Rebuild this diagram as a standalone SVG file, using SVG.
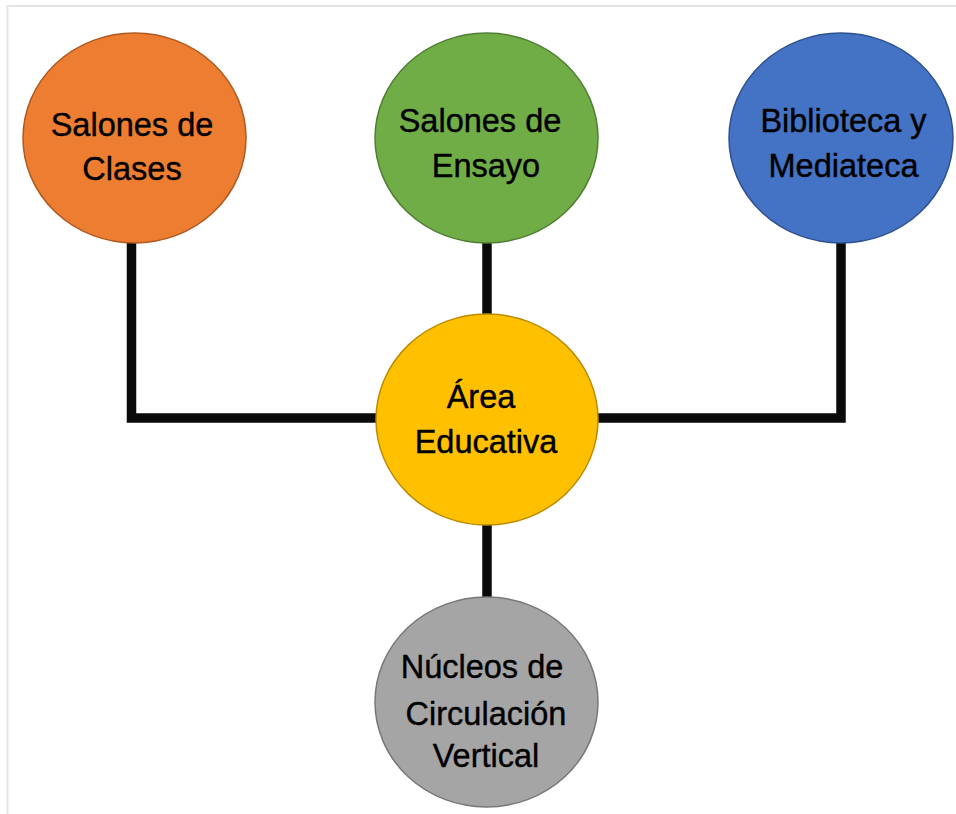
<svg xmlns="http://www.w3.org/2000/svg" width="956" height="814" viewBox="0 0 956 814">
<style>
.lbl{font-family:"Liberation Sans",Arial,sans-serif;font-size:32.5px;fill:#000;stroke:#000;stroke-width:0.4;text-anchor:middle}
.conn{fill:none;stroke:#0a0a0a;stroke-width:9.5;stroke-linejoin:miter}
.node{stroke-width:1.5}
</style>
<rect width="956" height="814" fill="#fff"/>
<path d="M7.5 814 V6 H956" fill="none" stroke="#e4e4e4" stroke-width="2"/>
<g id="connectors">
<polyline class="conn" points="131.5,240 131.5,418 380,418"/>
<polyline class="conn" points="841,240 841,418 594,418"/>
<line class="conn" x1="487" y1="240" x2="487" y2="318"/>
<line class="conn" x1="487" y1="522" x2="487" y2="600"/>
</g>
<g id="salones-clases">
<ellipse class="node" cx="134.5" cy="138" rx="111.5" ry="105" fill="#ED7D31" stroke="#AE5A21"/>
<text class="lbl" x="132" y="136">Salones de</text>
<text class="lbl" x="132" y="180">Clases</text>
</g>
<g id="salones-ensayo">
<ellipse class="node" cx="486.5" cy="138" rx="111.5" ry="105" fill="#70AD47" stroke="#507E32"/>
<text class="lbl" x="480" y="132">Salones de</text>
<text class="lbl" x="486" y="177">Ensayo</text>
</g>
<g id="biblioteca">
<ellipse class="node" cx="841" cy="138" rx="112" ry="105" fill="#4472C4" stroke="#2F528F"/>
<text class="lbl" x="843.5" y="132">Biblioteca y</text>
<text class="lbl" x="843.5" y="177">Mediateca</text>
</g>
<g id="area-educativa">
<ellipse class="node" cx="487" cy="419.5" rx="111" ry="105.5" fill="#FFC000" stroke="#BC8C00"/>
<text class="lbl" x="481" y="408">Área</text>
<text class="lbl" x="486" y="453">Educativa</text>
</g>
<g id="nucleos">
<ellipse class="node" cx="486.5" cy="702" rx="111.5" ry="105" fill="#A5A5A5" stroke="#787878"/>
<text class="lbl" x="482" y="678">Núcleos de</text>
<text class="lbl" x="486" y="725">Circulación</text>
<text class="lbl" x="486" y="767">Vertical</text>
</g>
</svg>
